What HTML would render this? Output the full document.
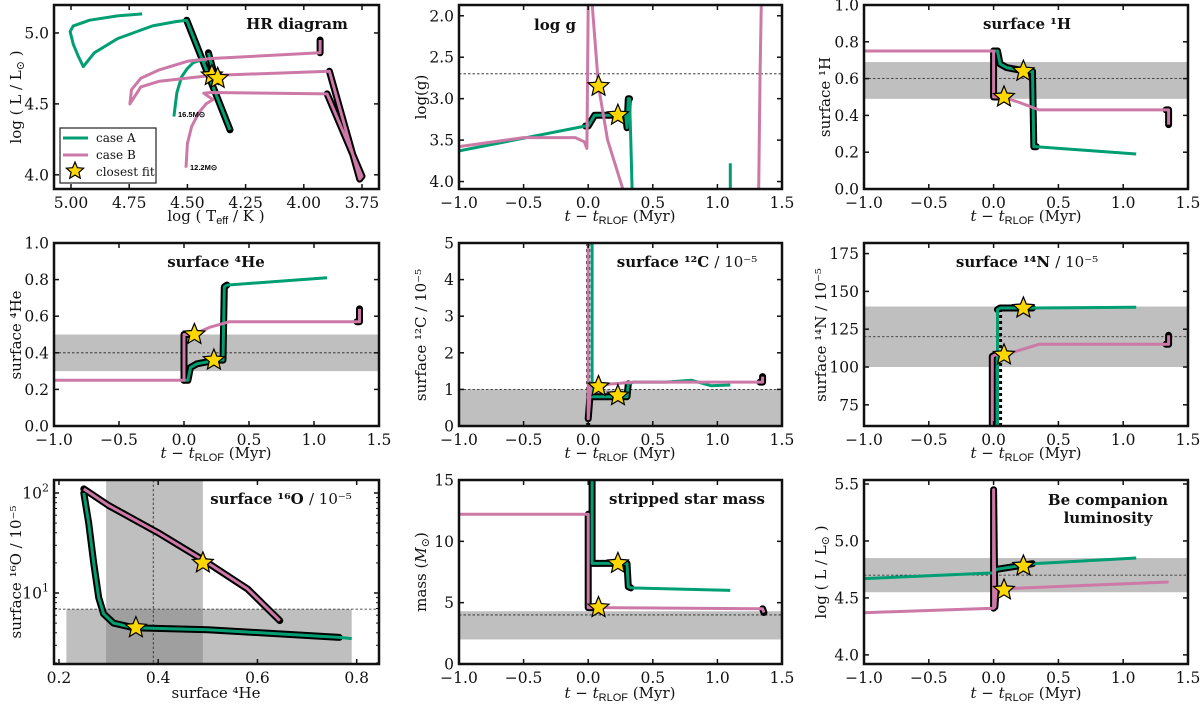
<!DOCTYPE html>
<html><head><meta charset="utf-8">
<style>
html,body{margin:0;padding:0;background:#fff;}
svg{display:block;font-family:"DejaVu Serif","Liberation Serif",serif;}
.tk{font-size:15.5px;fill:#111;}
.al{font-size:15px;fill:#111;}
.tt{font-size:15px;font-weight:bold;fill:#111;}
</style></head>
<body>
<svg id="fig" width="1200" height="705" viewBox="0 0 1200 705" xmlns="http://www.w3.org/2000/svg">
<g id="under"></g>
<text class="tt" x="297" y="29" text-anchor="middle">HR diagram</text>
<text class="tt" x="555" y="30" text-anchor="middle">log g</text>
<text class="tt" x="1027" y="29" text-anchor="middle">surface ¹H</text>
<text class="tt" x="216" y="267" text-anchor="middle">surface ⁴He</text>
<text class="tt" x="687" y="267" text-anchor="middle">surface ¹²C <tspan font-weight="normal">/ 10⁻⁵</tspan></text>
<text class="tt" x="1027" y="267" text-anchor="middle">surface ¹⁴N <tspan font-weight="normal">/ 10⁻⁵</tspan></text>
<text class="tt" x="281" y="504" text-anchor="middle">surface ¹⁶O <tspan font-weight="normal">/ 10⁻⁵</tspan></text>
<text class="tt" x="687" y="504" text-anchor="middle">stripped star mass</text>
<text class="tt" x="1108" y="505" text-anchor="middle">Be companion</text>
<text class="tt" x="1108" y="523" text-anchor="middle">luminosity</text>

<text class="al" x="216" y="221" text-anchor="middle">log ( T<tspan font-family="Liberation Sans" font-size="11" dy="3">eff</tspan><tspan dy="-3"> / K )</tspan></text>
<text class="al" transform="translate(21,97) rotate(-90)" text-anchor="middle">log ( L / L<tspan font-size="11" dy="3">⊙</tspan><tspan dy="-3"> )</tspan></text>
<text class="al" x="620" y="221" text-anchor="middle"><tspan font-style="italic">t</tspan> − <tspan font-style="italic">t</tspan><tspan font-family="Liberation Sans" font-size="11" dy="3">RLOF</tspan><tspan dy="-3"> (Myr)</tspan></text>
<text class="al" x="1026" y="221" text-anchor="middle"><tspan font-style="italic">t</tspan> − <tspan font-style="italic">t</tspan><tspan font-family="Liberation Sans" font-size="11" dy="3">RLOF</tspan><tspan dy="-3"> (Myr)</tspan></text>
<text class="al" x="216" y="458" text-anchor="middle"><tspan font-style="italic">t</tspan> − <tspan font-style="italic">t</tspan><tspan font-family="Liberation Sans" font-size="11" dy="3">RLOF</tspan><tspan dy="-3"> (Myr)</tspan></text>
<text class="al" x="620" y="458" text-anchor="middle"><tspan font-style="italic">t</tspan> − <tspan font-style="italic">t</tspan><tspan font-family="Liberation Sans" font-size="11" dy="3">RLOF</tspan><tspan dy="-3"> (Myr)</tspan></text>
<text class="al" x="1026" y="458" text-anchor="middle"><tspan font-style="italic">t</tspan> − <tspan font-style="italic">t</tspan><tspan font-family="Liberation Sans" font-size="11" dy="3">RLOF</tspan><tspan dy="-3"> (Myr)</tspan></text>
<text class="al" x="216" y="698" text-anchor="middle">surface ⁴He</text>
<text class="al" x="620" y="698" text-anchor="middle"><tspan font-style="italic">t</tspan> − <tspan font-style="italic">t</tspan><tspan font-family="Liberation Sans" font-size="11" dy="3">RLOF</tspan><tspan dy="-3"> (Myr)</tspan></text>
<text class="al" x="1026" y="698" text-anchor="middle"><tspan font-style="italic">t</tspan> − <tspan font-style="italic">t</tspan><tspan font-family="Liberation Sans" font-size="11" dy="3">RLOF</tspan><tspan dy="-3"> (Myr)</tspan></text>

<text class="al" transform="translate(426,97) rotate(-90)" text-anchor="middle">log(g)</text>
<text class="al" transform="translate(830,97) rotate(-90)" text-anchor="middle">surface ¹H</text>
<text class="al" transform="translate(21,335) rotate(-90)" text-anchor="middle">surface ⁴He</text>
<text class="al" transform="translate(426,335) rotate(-90)" text-anchor="middle">surface ¹²C / 10⁻⁵</text>
<text class="al" transform="translate(826,335) rotate(-90)" text-anchor="middle">surface ¹⁴N / 10⁻⁵</text>
<text class="al" transform="translate(21,572) rotate(-90)" text-anchor="middle">surface ¹⁶O / 10⁻⁵</text>
<text class="al" transform="translate(426,572) rotate(-90)" text-anchor="middle">mass (<tspan font-style="italic">M</tspan><tspan font-size="11" dy="3">⊙</tspan><tspan dy="-3">)</tspan></text>
<text class="al" transform="translate(826,572) rotate(-90)" text-anchor="middle">log ( L / L<tspan font-size="11" dy="3">⊙</tspan><tspan dy="-3"> )</tspan></text>

<text x="178" y="117" font-family="Liberation Sans" font-weight="bold" font-size="7.5">16.5M⊙</text>
<text x="190" y="170" font-family="Liberation Sans" font-weight="bold" font-size="7.5">12.2M⊙</text>

<g>
<rect x="60" y="128" width="96" height="55" fill="#fff" stroke="#222" stroke-width="1.2"/>
<line x1="63" y1="138" x2="88" y2="138" stroke="#009e73" stroke-width="3"/>
<text x="96" y="142" font-size="12" fill="#111">case A</text>
<line x1="63" y1="155" x2="88" y2="155" stroke="#cc79a7" stroke-width="3"/>
<text x="96" y="159" font-size="12" fill="#111">case B</text>
<text x="96" y="176" font-size="12" fill="#111">closest fit</text>
</g>
<g id="over"></g>
</svg>
<script>
// ---------- data ----------
const timeTicks = [-1, -0.5, 0, 0.5, 1, 1.5];
const timeTickLabels = ["−1.0","−0.5","0.0","0.5","1.0","1.5"];
// HR diagram
const hrA_T = [4.694,4.80,4.92,4.99,5.004,4.99,4.97,4.947,4.90,4.80,4.65,4.55,4.503,4.317];
const hrA_L = [5.134,5.12,5.09,5.05,5.01,4.92,4.84,4.763,4.86,4.96,5.05,5.08,5.09,4.317];
const hrA2_T = [4.558,4.545,4.525,4.50,4.475,4.44,4.42];
const hrA2_L = [4.41,4.58,4.69,4.75,4.79,4.81,4.80];
const hrA3_T = [4.41,4.40,4.39];
const hrA3_L = [4.86,4.80,4.74];
const hrB_T = [4.506,4.50,4.482,4.45,4.42,4.39,4.43,4.40,3.90,3.75,3.76,3.89,4.40,4.62,4.70,4.747,4.74,4.70,4.62,4.50,4.40,3.93,3.93];
const hrB_L = [4.05,4.22,4.34,4.44,4.50,4.53,4.575,4.58,4.57,3.99,3.97,4.73,4.70,4.66,4.62,4.50,4.60,4.68,4.74,4.80,4.82,4.86,4.95];
const hrStar_T = [4.395,4.37];
const hrStar_L = [4.70,4.68];
// log g
const lgA_t = [-1,-0.02,0.0,0.05,0.1,0.25,0.29,0.3,0.31,0.32,0.33,0.34];
const lgA_y = [3.63,3.33,3.33,3.2,3.2,3.2,3.2,3.35,3.0,3.0,3.5,4.1];
const lgA2_t = [1.1,1.1];
const lgA2_y = [3.78,4.1];
const lgB_t = [-1,-0.5,-0.1,-0.03,-0.01,0.0,0.03,0.08,0.15,0.27];
const lgB_y = [3.58,3.47,3.47,3.52,3.6,1.85,1.85,2.85,3.5,4.1];
const lgB2_t = [1.32,1.33,1.34,1.345];
const lgB2_y = [4.1,2.75,1.85,1.85];
const lgStar_t = [0.23,0.08];
const lgStar_y = [3.2,2.85];
// surface H
const hA_t = [0.0,0.03,0.05,0.1,0.25,0.3,0.31,0.33,1.1];
const hA_y = [0.75,0.75,0.68,0.66,0.64,0.64,0.23,0.23,0.19];
const hB_t = [-1,0,0.0,0.07,0.2,0.35,1.33,1.35,1.35];
const hB_y = [0.75,0.75,0.5,0.5,0.47,0.43,0.43,0.43,0.35];
const hStar_t = [0.23,0.08];
const hStar_y = [0.64,0.50];
// surface He
const heA_t = [0.0,0.03,0.05,0.1,0.25,0.3,0.31,0.33,1.1];
const heA_y = [0.25,0.25,0.32,0.34,0.36,0.36,0.76,0.77,0.81];
const heB_t = [-1,0,0.0,0.07,0.2,0.35,1.33,1.35,1.35];
const heB_y = [0.25,0.25,0.5,0.5,0.54,0.57,0.57,0.57,0.64];
const heStar_t = [0.23,0.08];
const heStar_y = [0.36,0.50];
// surface C
const cA_t = [0.03,0.03,0.05,0.3,0.31,0.35,0.6,0.8,0.95,1.1];
const cA_y = [5.0,0.8,0.8,0.8,1.15,1.2,1.2,1.25,1.1,1.12];
const cB_t = [0.0,0.0,0.02,0.35,1.33,1.35,1.35];
const cB_y = [5.0,0.2,1.1,1.2,1.2,1.2,1.35];
const cStar_t = [0.23,0.08];
const cStar_y = [0.83,1.08];
// surface N
const nA_t = [0.03,0.03,0.05,0.3,1.1];
const nA_y = [60,138,139,139,139.5];
const nB_t = [-0.01,-0.01,0.01,0.08,0.35,1.33,1.35,1.35];
const nB_y = [60,107,108,108,115,115,115,121];
const nStar_t = [0.23,0.08];
const nStar_y = [139,108];
// surface O vs He
const oA_he = [0.25,0.26,0.27,0.28,0.29,0.31,0.35,0.5,0.765,0.79];
const oA_o = [100,50,20,9,6.2,5,4.5,4.3,3.6,3.5];
const oB_he = [0.25,0.30,0.40,0.50,0.58,0.645];
const oB_o = [110,75,40,20,11,5.3];
const oStar_he = [0.355,0.49];
const oStar_o = [4.5,20];
// mass
const mA_t = [0.03,0.03,0.1,0.3,0.31,0.33,1.1];
const mA_y = [15,8.2,8.2,8.2,6.3,6.2,6.0];
const mB_t = [-1,0,0,0.05,1.33,1.35,1.36];
const mB_y = [12.2,12.2,4.6,4.6,4.5,4.5,4.2];
const mStar_t = [0.23,0.08];
const mStar_y = [8.2,4.6];
// Be luminosity
const lA_t = [-1,0,0.02,0.3,1.1];
const lA_y = [4.67,4.72,4.75,4.8,4.85];
const lB_t = [-1,0,0,0.01,0.02,0.08,1.35];
const lB_y = [4.37,4.41,5.45,4.42,4.57,4.58,4.64];
const lStar_t = [0.23,0.08];
const lStar_y = [4.78,4.57];

// ---------- helpers ----------
const NS = "http://www.w3.org/2000/svg";
const under = document.getElementById('under');
const GREEN = "#009e73", PINK = "#cc79a7";
function mk(tag, attrs, parent){
  const e = document.createElementNS(NS, tag);
  for (const k in attrs) e.setAttribute(k, attrs[k]);
  (parent||under).appendChild(e);
  return e;
}
function makePanel(box, xd, yd, ylog){
  const [x0,y0,x1,y1] = box;
  const sx = v => x0 + (v - xd[0])/(xd[1]-xd[0])*(x1-x0);
  const sy = v => { const u = ylog ? Math.log10(v) : v; return y1 - (u - yd[0])/(yd[1]-yd[0])*(y1-y0); };
  const g = mk('g', {});
  
  
  const cp = 'cp' + Math.round(x0) + '_' + Math.round(y0);
  const cl = mk('clipPath', {id: cp}, g);
  mk('rect', {x:x0, y:y0, width:x1-x0, height:y1-y0}, cl);
  const inner = mk('g', {'clip-path':'url(#'+cp+')'}, g);
  return {box, sx, sy, g, inner};
}
function hband(p, lo, hi, name){
  const el = mk('rect', {x:p.box[0], y:p.sy(hi), width:p.box[2]-p.box[0], height:p.sy(lo)-p.sy(hi), fill:'rgba(128,128,128,0.5)'}, p.inner);
  
  
}
function hdash(p, v, name){
  const el = mk('line', {x1:p.box[0], x2:p.box[2], y1:p.sy(v), y2:p.sy(v), stroke:'#222', 'stroke-width':0.8, 'stroke-dasharray':'2.5,2'}, p.inner);
  
  
}
function pts(p, xs, ys, i0, i1){
  const a = [];
  for (let i=i0;i<=i1;i++) a.push(p.sx(xs[i]).toFixed(1)+','+p.sy(ys[i]).toFixed(1));
  return a.join(' ');
}
function outline(p, xs, ys, i0, i1, name){
  const el = mk('polyline', {points:pts(p,xs,ys,i0,i1), fill:'none', stroke:'#000', 'stroke-width':7, 'stroke-linejoin':'round', 'stroke-linecap':'round'}, p.inner);
  
  
}
function series(p, xs, ys, color, name){
  const el = mk('polyline', {points:pts(p,xs,ys,0,xs.length-1), fill:'none', stroke:color, 'stroke-width':3, 'stroke-linejoin':'round'}, p.inner);
  
  
}
function starPath(cx, cy, R){
  const r = R*0.45; let d='';
  for (let i=0;i<10;i++){
    const a = -Math.PI/2 + i*Math.PI/5, rr = i%2 ? r : R;
    d += (i?'L':'M') + (cx+rr*Math.cos(a)).toFixed(1)+','+(cy+rr*Math.sin(a)).toFixed(1);
  }
  return d+'Z';
}
function stars(p, xs, ys, name){
  for (let i=0;i<xs.length;i++){
    const el = mk('path', {d:starPath(p.sx(xs[i]), p.sy(ys[i]), 11), fill:'#ffd700', stroke:'#000', 'stroke-width':1.2}, p.g);
    
    
  }
}
function frame(p, xt, xl, yt, yl, ylog){
  const [x0,y0,x1,y1] = p.box;
  const f = mk('rect', {x:x0, y:y0, width:x1-x0, height:y1-y0, fill:'none', stroke:'#111', 'stroke-width':2.5}, p.g);
  
  
  xt.forEach((v,i)=>{
    const X = p.sx(v);
    mk('line', {x1:X, x2:X, y1:y1, y2:y1-5, stroke:'#111', 'stroke-width':1.5}, p.g);
    mk('line', {x1:X, x2:X, y1:y0, y2:y0+5, stroke:'#111', 'stroke-width':1.5}, p.g);
    const t = mk('text', {x:X, y:y1+19, 'text-anchor':'middle', class:'tk'}, p.g);
    
    
    t.textContent = xl[i];
  });
  yt.forEach((v,i)=>{
    const Y = p.sy(v);
    mk('line', {x1:x0, x2:x0+5, y1:Y, y2:Y, stroke:'#111', 'stroke-width':1.5}, p.g);
    mk('line', {x1:x1, x2:x1-5, y1:Y, y2:Y, stroke:'#111', 'stroke-width':1.5}, p.g);
    const t = mk('text', {x:x0-5, y:Y+5.5, 'text-anchor':'end', class:'tk'}, p.g);
    
    
    if (ylog){ t.textContent = '10'; const s = mk('tspan', {dy:-7, 'font-size':11}, t); s.textContent = yl[i]; }
    else t.textContent = yl[i];
  });
}

// ---------- HR ----------
let p = makePanel([54,5,379,189],[5.073,3.677],[3.90,5.197]);
outline(p, hrA_T, hrA_L, 12, 13, 'hr-case-a-outline');
outline(p, hrA3_T, hrA3_L, 0, 2, 'hr-case-a-outline');
outline(p, hrB_T, hrB_L, 8, 11, 'hr-case-b-outline');
outline(p, hrB_T, hrB_L, 21, 22, 'hr-case-b-outline');
series(p, hrA_T, hrA_L, GREEN, 'hr-case-a-track');
series(p, hrA2_T, hrA2_L, GREEN, 'hr-case-a-zams-track');
series(p, hrA3_T, hrA3_L, GREEN, 'hr-case-a-segment');
series(p, hrB_T, hrB_L, PINK, 'hr-case-b-track');
stars(p, hrStar_T, hrStar_L, 'hr-closest-fit-star');
frame(p, [5,4.75,4.5,4.25,4,3.75], ["5.00","4.75","4.50","4.25","4.00","3.75"], [4,4.5,5], ["4.0","4.5","5.0"]);

// ---------- log g ----------
p = makePanel([459,5,782,189],[-1,1.5],[4.09,1.87]);
hband(p, 2.55, 2.85, 'logg-observed-band'); hdash(p, 2.7, 'logg-observed-value');
outline(p, lgA_t, lgA_y, 1, 9, 'logg-case-a-outline');
series(p, lgA_t, lgA_y, GREEN, 'logg-case-a-line');
series(p, lgA2_t, lgA2_y, GREEN, 'logg-case-a-late');
series(p, lgB_t, lgB_y, PINK, 'logg-case-b-line');
series(p, lgB2_t, lgB2_y, PINK, 'logg-case-b-late');
stars(p, lgStar_t, lgStar_y, 'logg-closest-fit-star');
frame(p, timeTicks, timeTickLabels, [2,2.5,3,3.5,4], ["2.0","2.5","3.0","3.5","4.0"]);

// ---------- H ----------
p = makePanel([864,5,1188,189],[-1,1.5],[0,1]);
hband(p, 0.49, 0.69, 'h1-observed-band'); hdash(p, 0.6, 'h1-observed-value');
outline(p, hA_t, hA_y, 0, 7, 'h1-case-a-outline');
outline(p, hB_t, hB_y, 1, 3, 'h1-case-b-outline');
outline(p, hB_t, hB_y, 6, 8, 'h1-case-b-outline');
series(p, hA_t, hA_y, GREEN, 'h1-case-a-line');
series(p, hB_t, hB_y, PINK, 'h1-case-b-line');
stars(p, hStar_t, hStar_y, 'h1-closest-fit-star');
frame(p, timeTicks, timeTickLabels, [0,0.2,0.4,0.6,0.8,1], ["0.0","0.2","0.4","0.6","0.8","1.0"]);

// ---------- He ----------
p = makePanel([54,243,379,426],[-1,1.5],[0,1]);
hband(p, 0.3, 0.5, 'he4-observed-band'); hdash(p, 0.4, 'he4-observed-value');
outline(p, heA_t, heA_y, 0, 7, 'he4-case-a-outline');
outline(p, heB_t, heB_y, 1, 3, 'he4-case-b-outline');
outline(p, heB_t, heB_y, 6, 8, 'he4-case-b-outline');
series(p, heA_t, heA_y, GREEN, 'he4-case-a-line');
series(p, heB_t, heB_y, PINK, 'he4-case-b-line');
stars(p, heStar_t, heStar_y, 'he4-closest-fit-star');
frame(p, timeTicks, timeTickLabels, [0,0.2,0.4,0.6,0.8,1], ["0.0","0.2","0.4","0.6","0.8","1.0"]);

// ---------- C ----------
p = makePanel([459,243,782,426],[-1,1.5],[0,5]);
hband(p, 0, 1, 'c12-observed-band'); hdash(p, 1, 'c12-observed-value');
let dl = mk('line', {x1:p.sx(0), x2:p.sx(0), y1:p.sy(0), y2:p.sy(5), stroke:'#000', 'stroke-width':4, 'stroke-dasharray':'3,3'}, p.inner);


outline(p, cA_t, cA_y, 1, 4, 'c12-case-a-outline');
outline(p, cB_t, cB_y, 1, 2, 'c12-case-b-outline');
outline(p, cB_t, cB_y, 4, 6, 'c12-case-b-outline');
series(p, cA_t, cA_y, GREEN, 'c12-case-a-line');
series(p, cB_t, cB_y, PINK, 'c12-case-b-line');
stars(p, cStar_t, cStar_y, 'c12-closest-fit-star');
frame(p, timeTicks, timeTickLabels, [0,1,2,3,4,5], ["0","1","2","3","4","5"]);

// ---------- N ----------
p = makePanel([864,243,1188,426],[-1,1.5],[61,182]);
hband(p, 100, 140, 'n14-observed-band'); hdash(p, 120, 'n14-observed-value');
dl = mk('line', {x1:p.sx(0.05), x2:p.sx(0.05), y1:p.sy(61), y2:p.sy(138), stroke:'#000', 'stroke-width':4, 'stroke-dasharray':'3,3'}, p.inner);


outline(p, nA_t, nA_y, 1, 3, 'n14-case-a-outline');
outline(p, nB_t, nB_y, 0, 3, 'n14-case-b-outline');
outline(p, nB_t, nB_y, 5, 7, 'n14-case-b-outline');
series(p, nA_t, nA_y, GREEN, 'n14-case-a-line');
series(p, nB_t, nB_y, PINK, 'n14-case-b-line');
stars(p, nStar_t, nStar_y, 'n14-closest-fit-star');
frame(p, timeTicks, timeTickLabels, [75,100,125,150,175], ["75","100","125","150","175"]);

// ---------- O vs He (log y) ----------
p = makePanel([54,480,379,664],[0.19,0.845],[0.29,2.13],true);
let br = mk('rect', {x:p.sx(0.295), y:480, width:p.sx(0.49)-p.sx(0.295), height:184, fill:'rgba(128,128,128,0.5)'}, p.inner);


br = mk('rect', {x:p.sx(0.215), y:p.sy(6.9), width:p.sx(0.79)-p.sx(0.215), height:664-p.sy(6.9), fill:'rgba(128,128,128,0.5)'}, p.inner);


hdash(p, 6.9, 'o16-observed-value');
dl = mk('line', {x1:p.sx(0.39), x2:p.sx(0.39), y1:480, y2:664, stroke:'#222', 'stroke-width':0.8, 'stroke-dasharray':'2.5,2'}, p.inner);


outline(p, oA_he, oA_o, 0, 8, 'o16-case-a-outline');
outline(p, oB_he, oB_o, 0, 5, 'o16-case-b-outline');
series(p, oA_he, oA_o, GREEN, 'o16-case-a-line');
series(p, oB_he, oB_o, PINK, 'o16-case-b-line');
stars(p, oStar_he, oStar_o, 'o16-closest-fit-star');
frame(p, [0.2,0.4,0.6,0.8], ["0.2","0.4","0.6","0.8"], [10,100], ["1","2"], true);
[2,3,4,5,6,7,8,9,20,30,40,50,60,70,80,90].forEach(v=>{
  const Y = p.sy(v);
  if (Y < 480 || Y > 664) return;
  mk('line', {x1:54, x2:57, y1:Y, y2:Y, stroke:'#111', 'stroke-width':1}, p.g);
  mk('line', {x1:379, x2:376, y1:Y, y2:Y, stroke:'#111', 'stroke-width':1}, p.g);
});

// ---------- mass ----------
p = makePanel([459,480,782,664],[-1,1.5],[0,15]);
hband(p, 2, 4.3, 'mass-observed-band'); hdash(p, 4, 'mass-observed-value');
outline(p, mA_t, mA_y, 0, 5, 'mass-case-a-outline');
outline(p, mB_t, mB_y, 1, 3, 'mass-case-b-outline');
outline(p, mB_t, mB_y, 5, 6, 'mass-case-b-outline');
series(p, mA_t, mA_y, GREEN, 'mass-case-a-line');
series(p, mB_t, mB_y, PINK, 'mass-case-b-line');
stars(p, mStar_t, mStar_y, 'mass-closest-fit-star');
frame(p, timeTicks, timeTickLabels, [0,5,10,15], ["0","5","10","15"]);

// ---------- Be luminosity ----------
p = makePanel([864,480,1188,664],[-1,1.5],[3.92,5.535]);
hband(p, 4.55, 4.85, 'be-observed-band'); hdash(p, 4.7, 'be-observed-value');
outline(p, lA_t, lA_y, 2, 3, 'be-case-a-outline');
outline(p, lB_t, lB_y, 1, 4, 'be-case-b-outline');
series(p, lA_t, lA_y, GREEN, 'be-case-a-line');
series(p, lB_t, lB_y, PINK, 'be-case-b-line');
stars(p, lStar_t, lStar_y, 'be-closest-fit-star');
frame(p, timeTicks, timeTickLabels, [4,4.5,5,5.5], ["4.0","4.5","5.0","5.5"]);

// legend star
const ls = mk('path', {d:starPath(75,171,9), fill:'#ffd700', stroke:'#000', 'stroke-width':1.2}, document.getElementById('over'));


</script>
</body></html>
